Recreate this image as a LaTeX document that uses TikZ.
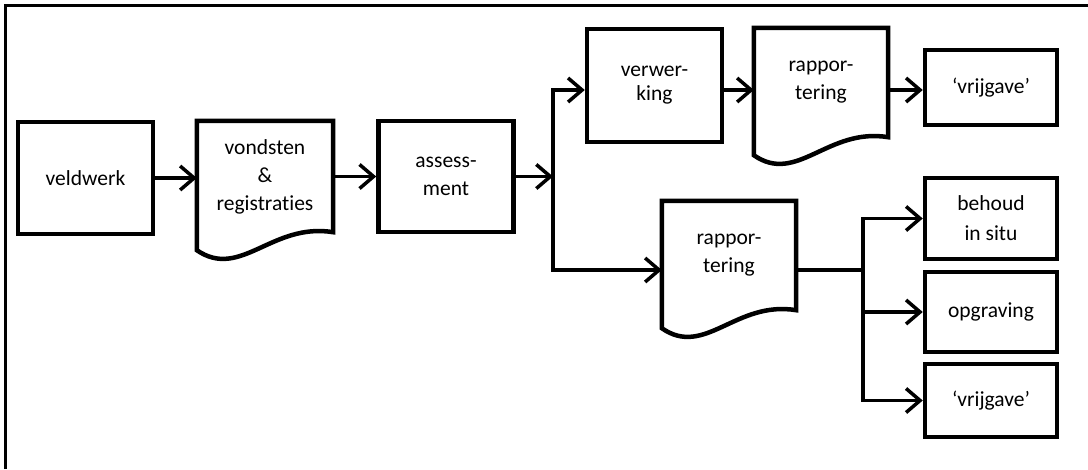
\documentclass[tikz,border=0pt]{standalone}
\usepackage{fontspec}
\setmainfont{Carlito}[Ligatures={NoCommon}]
\usetikzlibrary{arrows.meta,calc}
\tikzset{
  box/.style={draw, line width=4.5pt, inner sep=0pt, align=center, minimum width=135pt},
  docbox/.style={inner sep=0pt, align=center, minimum width=134pt},
  ln/.style={line width=3.5pt},
  arr/.style={line width=3.5pt, -{Straight Barb[length=14pt,width=24pt]}},
  frame/.style={line width=3pt},
}
\newcommand{\docshape}[1]{%
  \draw[line width=4.5pt, line join=miter] (#1.south east) -- (#1.north east) -- (#1.north west) -- ($(#1.south west)+(0,18)$)
    .. controls ($(#1.south west)!0.32!(#1.south east)+(0,48)$) and ($(#1.south west)!0.55!(#1.south east)+(0,-10)$) .. (#1.south east) -- cycle;}
\begin{document}
\begin{tikzpicture}[x=1pt,y=-1pt,font=\fontsize{21.5}{28}\selectfont]
\useasboundingbox (0,0) rectangle (1088,469);
\draw[frame] (5.5,469) -- (5.5,5) -- (1088,5);

\node[box, minimum height=112pt] (veld) at (85.5,178) {veldwerk};
\node[docbox, minimum width=136pt, minimum height=111pt] (vond) at (265,176.5) {vondsten\\\&\\registraties};
\docshape{vond}
\node[box, minimum height=111pt] (assess) at (446,176.5) {assess-\\ment};
\node[box, minimum height=113pt, font=\fontsize{21.5}{24}\selectfont] (verw) at (654.5,85.5) {verwer-\\king};
\node[docbox, minimum height=109pt] (rtop) at (821,82.5) {rappor-\\tering};
\docshape{rtop}
\node[box, minimum width=132pt, minimum height=75pt] (vrij1) at (991,87.5) {‘vrijgave’};
\node[docbox, minimum height=109pt] (rlow) at (729,255.5) {rappor-\\tering};
\docshape{rlow}
\node[box, minimum width=132pt, minimum height=81pt, font=\fontsize{21.5}{30}\selectfont] (behoud) at (991,218.5) {behoud\\in situ};
\node[box, minimum width=132pt, minimum height=80pt] (opgr) at (991,312) {opgraving};
\node[box, minimum width=132pt, minimum height=73pt] (vrij2) at (991,400.5) {‘vrijgave’};

\coordinate (s1top) at (553,90);
\coordinate (s1bot) at (553,270);
\coordinate (s2) at (863,270);

\draw[arr] (veld.east) -- (veld.east -| vond.west);
\draw[arr] (vond.east) -- (vond.east -| assess.west);
\draw[arr] (assess.east) -- (assess.east -| s1top);
\draw[arr] (s1top |- assess.east) |- (s1top -| verw.west);
\draw[arr] (s1top |- assess.east) |- (s1bot -| rlow.west);
\draw[arr] (verw.east |- s1top) -- (rtop.west |- s1top);
\draw[arr] (rtop.east |- s1top) -- (vrij1.west |- s1top);
\draw[ln] (rlow.east |- s2) -- (s2);
\draw[arr] (s2) |- (behoud.west);
\draw[arr] (s2) |- (opgr.west);
\draw[arr] (s2) |- (vrij2.west);
\end{tikzpicture}
\end{document}
